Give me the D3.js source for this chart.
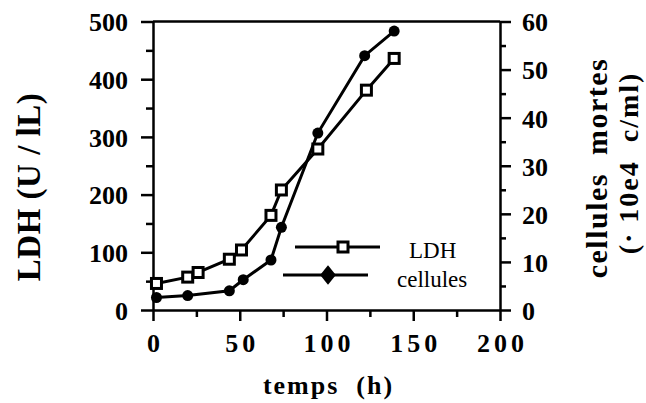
<!DOCTYPE html>
<html>
<head>
<meta charset="utf-8">
<script src="https://cdn.jsdelivr.net/npm/d3@7"></script>
<style>
  body { margin: 0; background: #fff; }
  text { font-family: "Liberation Serif", "Times New Roman", serif; fill: #000; }
  .axis path, .axis line { stroke: #000; stroke-width: 2.5; }
  .axis text { font-size: 26px; font-weight: bold; font-family: "Liberation Serif", serif; }
</style>
</head>
<body>
<div id="chart"></div>
<script>
var w = 646, h = 403;

// LDH (U / lL), left axis
var ldhTime = [2, 20, 26, 44, 51, 68, 74, 95, 123, 139];
var ldhValue = [46, 57, 65, 88, 104, 164, 208, 279, 381, 436];

// dead cells (10e4 c/ml), right axis
var cellTime = [2, 20, 44, 52, 68, 74, 95, 122, 139];
var cellValue = [2.6, 3.0, 4.0, 6.3, 10.4, 17.2, 36.8, 52.9, 58];

var xTicks = [0, 50, 100, 150, 200];
var leftTicks = [0, 100, 200, 300, 400, 500];
var rightTicks = [0, 10, 20, 30, 40, 50, 60];
var legendLabels = ["LDH", "cellules"];

var plotL = 153, plotR = 500, plotT = 21.5, plotB = 310;

var svg = d3.select("#chart").append("svg").attr("width", w).attr("height", h);

var x = d3.scaleLinear().domain([0, 200]).range([plotL, plotR]);
var yL = d3.scaleLinear().domain([0, 500]).range([plotB, plotT]);
var yR = d3.scaleLinear().domain([0, 60]).range([plotB, plotT]);

// frame top
svg.append("line").attr("x1", plotL).attr("x2", plotR).attr("y1", plotT).attr("y2", plotT)
   .attr("stroke", "#000").attr("stroke-width", 2.5);

// minor ticks
svg.append("g").attr("class", "axis").attr("transform", "translate(0," + plotB + ")")
   .call(d3.axisBottom(x).tickValues(d3.range(25, 200, 50)).tickSize(7).tickFormat(""))
   .select(".domain").remove();
svg.append("g").attr("class", "axis").attr("transform", "translate(" + plotL + ",0)")
   .call(d3.axisLeft(yL).tickValues(d3.range(50, 500, 100)).tickSize(7).tickFormat(""))
   .select(".domain").remove();
svg.append("g").attr("class", "axis").attr("transform", "translate(" + plotR + ",0)")
   .call(d3.axisRight(yR).tickValues(d3.range(5, 60, 10)).tickSize(6).tickFormat(""))
   .select(".domain").remove();

// major axes
var xa = svg.append("g").attr("class", "axis").attr("transform", "translate(0," + plotB + ")")
   .call(d3.axisBottom(x).tickValues(xTicks).tickSize(11).tickSizeOuter(0).tickPadding(13));
xa.selectAll("text").attr("letter-spacing", "4px").attr("dx", "2px");

var la = svg.append("g").attr("class", "axis").attr("transform", "translate(" + plotL + ",0)")
   .call(d3.axisLeft(yL).tickValues(leftTicks).tickSize(12).tickSizeOuter(0).tickPadding(13));
la.selectAll("text").attr("dy", "0.36em");

var ra = svg.append("g").attr("class", "axis").attr("transform", "translate(" + plotR + ",0)")
   .call(d3.axisRight(yR).tickValues(rightTicks).tickSize(11).tickSizeOuter(0).tickPadding(11));
ra.selectAll("text").attr("dy", "0.36em").attr("font-size", 27);

// axis titles
svg.append("text").attr("x", (plotL + plotR) / 2 + 2).attr("y", 394)
   .attr("text-anchor", "middle").attr("font-size", 26).attr("font-weight", "bold")
   .attr("letter-spacing", "2px").attr("xml:space", "preserve")
   .text("temps  (h)");

svg.append("text").attr("transform", "translate(40,187) rotate(-90)")
   .attr("text-anchor", "middle").attr("font-size", 33).attr("font-weight", "bold")
   .attr("letter-spacing", "0.5px").attr("xml:space", "preserve")
   .text("LDH (U / lL)");

svg.append("text").attr("transform", "translate(607,168) rotate(-90)")
   .attr("text-anchor", "middle").attr("font-size", 30).attr("font-weight", "bold")
   .attr("letter-spacing", "1.5px").attr("xml:space", "preserve")
   .text("cellules  mortes");

svg.append("text").attr("transform", "translate(638,163) rotate(-90)")
   .attr("text-anchor", "middle").attr("font-size", 28).attr("font-weight", "bold")
   .attr("letter-spacing", "2px").attr("xml:space", "preserve")
   .text("(· 10e4  c/ml)");

// lines
var ldh = ldhTime.map(function (t, i) { return [t, ldhValue[i]]; });
var cells = cellTime.map(function (t, i) { return [t, cellValue[i]]; });

svg.append("path").datum(ldh)
   .attr("d", d3.line().x(function (d) { return x(d[0]); }).y(function (d) { return yL(d[1]); }))
   .attr("fill", "none").attr("stroke", "#000").attr("stroke-width", 3);
svg.append("path").datum(cells)
   .attr("d", d3.line().x(function (d) { return x(d[0]); }).y(function (d) { return yR(d[1]); }))
   .attr("fill", "none").attr("stroke", "#000").attr("stroke-width", 3);

svg.selectAll(".cell").data(cells).enter().append("circle")
   .attr("cx", function (d) { return x(d[0]); })
   .attr("cy", function (d) { return yR(d[1]); })
   .attr("r", 5.5).attr("fill", "#000");

svg.selectAll(".ldh").data(ldh).enter().append("rect")
   .attr("x", function (d) { return x(d[0]) - 5; })
   .attr("y", function (d) { return yL(d[1]) - 5; })
   .attr("width", 10).attr("height", 10)
   .attr("fill", "#fff").attr("stroke", "#000").attr("stroke-width", 3);

// legend
var lg = svg.append("g");
lg.append("line").attr("x1", 295).attr("x2", 380).attr("y1", 247).attr("y2", 247)
  .attr("stroke", "#000").attr("stroke-width", 3);
lg.append("rect").attr("x", 338).attr("y", 242).attr("width", 10).attr("height", 10)
  .attr("fill", "#fff").attr("stroke", "#000").attr("stroke-width", 3);
lg.append("text").attr("x", 409).attr("y", 258).attr("font-size", 23).text(legendLabels[0]);

lg.append("line").attr("x1", 283).attr("x2", 368).attr("y1", 275).attr("y2", 275)
  .attr("stroke", "#000").attr("stroke-width", 3);
lg.append("path").attr("d", d3.symbol(d3.symbolDiamond, 110)())
  .attr("transform", "translate(328,275) scale(1.4,1)").attr("fill", "#000");
lg.append("text").attr("x", 397).attr("y", 287).attr("font-size", 23).text(legendLabels[1]);
</script>
</body>
</html>
